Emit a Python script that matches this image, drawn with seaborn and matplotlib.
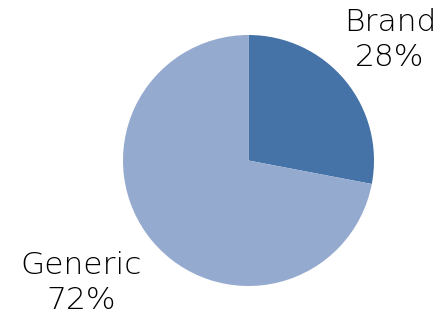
import matplotlib
matplotlib.use("Agg")
import matplotlib.pyplot as plt
import seaborn as sns

categories = ["Brand", "Generic"]
shares = [28, 72]
colors = ["#4573A7", "#95AACF"]

sns.set_theme(style="white")
plt.rcParams['font.family'] = ['DejaVu Sans']

W, H = 448, 320
fig = plt.figure(figsize=(W / 100, H / 100), dpi=100)
cx, cy, r = 248.5, 160.5, 125.5
ax = fig.add_axes([(cx - r) / W, (H - cy - r) / H, 2 * r / W, 2 * r / H])
wedges, _ = ax.pie(shares, colors=colors, startangle=90, counterclock=False,
                   wedgeprops=dict(linewidth=0))
ax.set_xlim(-1, 1)
ax.set_ylim(-1, 1)
ax.set_aspect('equal')
ax.axis('off')

label_pos = [(390, 40), (81, 283)]
for name, val, (px, py) in zip(categories, shares, label_pos):
    fig.text(px / W, 1 - py / H, f"{name}\n{val}%", ha='center', va='center',
             fontsize=22.5, color='black', linespacing=1.25, fontweight='light')

fig.savefig("out.png", dpi=100)
